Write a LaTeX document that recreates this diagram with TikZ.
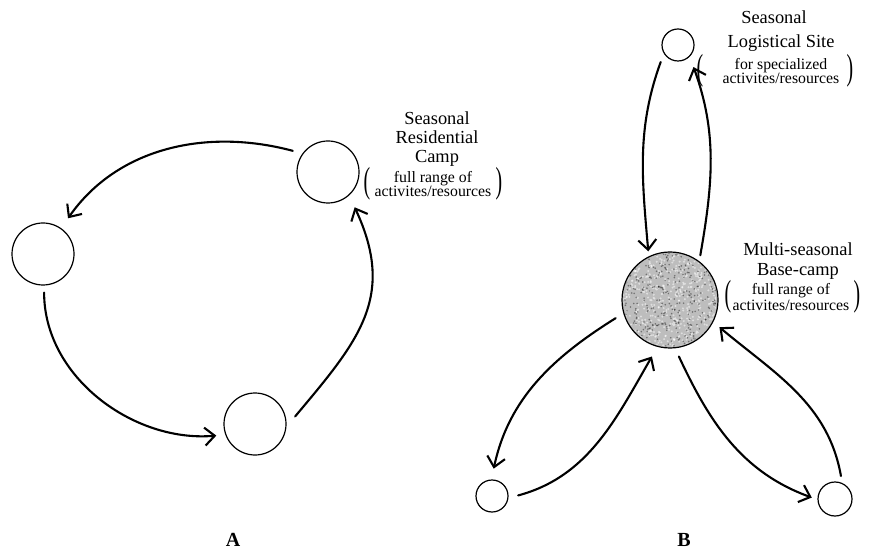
\documentclass[tikz,border=0pt]{standalone}
\usepackage{fontspec}
\setmainfont{Liberation Serif}
\usetikzlibrary{arrows.meta}
\begin{document}
\begin{tikzpicture}[x=0.5pt,y=0.5pt,
 site/.style={circle,draw,line width=0.6pt,inner sep=0pt},
 flow/.style={line width=1.05pt,line cap=round,-{Straight Barb[length=5pt,width=9pt,line width=1.05pt]}},
 bigtext/.style={font=\fontsize{9.2}{9.4}\selectfont,align=center,inner sep=0pt},
 smalltext/.style={font=\fontsize{7.9}{7}\selectfont,align=center,inner sep=0pt},
 paren/.style={font=\fontsize{11}{11}\selectfont,inner sep=0pt},
 letter/.style={font=\fontsize{10}{12}\selectfont\bfseries,inner sep=0pt}]
\useasboundingbox (0,0) rectangle (870,551);
% ---------- A ----------
\node[site,minimum size=31pt] (L) at (43,297) {};
\node[site,minimum size=31pt] (TR) at (328,379) {};
\node[site,minimum size=31pt] (Bt) at (255,127) {};
\draw[flow,shorten <=5pt,shorten >=6pt] (TR.144) to[out=165,in=55] (L.55);
\draw[flow,shorten <=3.5pt,shorten >=4.5pt] (L.-88) to[out=-90,in=185] (Bt.200);
\draw[flow,shorten <=6.7pt,shorten >=6.5pt] (Bt.-5) to[out=50,in=-65,looseness=1.2] (TR.-48);
\node[bigtext] (labA) at (437,412) {Seasonal\\Residential\\Camp};
\node[smalltext] (subA) at (433,367) {full range of\\activites/resources};
\node[paren] (pAl) at (367,367) {\scalebox{0.9}[1.65]{(}};
\node[paren] (pAr) at (499,367) {\scalebox{0.9}[1.65]{)}};
\node[letter] (letA) at (233,11) {A};
% ---------- B ----------
\node[site,minimum size=16pt] (T) at (678,506) {};
\node[site,minimum size=48pt,fill=gray!52] (Big) at (670,251) {};
\begin{scope}
\clip (Big.center) circle (23.4pt);
\pgfmathsetseed{11}
\foreach \i in {1,...,520}{
  \pgfmathsetmacro{\dx}{rand*23.5}
  \pgfmathsetmacro{\dy}{rand*23.5}
  \fill[white,opacity=0.5] ([shift={(\dx pt,\dy pt)}]Big.center) circle (0.55pt);
}
\foreach \i in {1,...,360}{
  \pgfmathsetmacro{\dx}{rand*23.5}
  \pgfmathsetmacro{\dy}{rand*23.5}
  \fill[black,opacity=0.4] ([shift={(\dx pt,\dy pt)}]Big.center) circle (0.45pt);
}
\end{scope}
\node[site,minimum size=16pt] (BL) at (492,55) {};
\node[site,minimum size=17pt] (BR) at (835,52) {};
\draw[flow,shorten <=4.5pt,shorten >=2.5pt] (T.211) to[out=250,in=95] (Big.116);
\draw[flow,shorten <=3pt,shorten >=5.5pt] (Big.53) to[out=80,in=-70] (T.-45);
\draw[flow,shorten <=4.5pt,shorten >=5.5pt] (Big.196) to[out=212,in=78] (BL.92);
\draw[flow,shorten <=5pt,shorten >=5.5pt] (BL.-7) to[out=15,in=240] (Big.255);
\draw[flow,shorten <=4.5pt,shorten >=3pt] (Big.-84) to[out=-65,in=160] (BR.182);
\draw[flow,shorten <=3.5pt,shorten >=4pt] (BR.66) to[out=100,in=-40] (Big.-27);
\node[bigtext,font=\fontsize{9.2}{12.3}\selectfont] (labT) at (774,520) {Seasonal\\\hspace*{7pt}Logistical Site};
\node[smalltext] (subT) at (781,480) {for specialized\\activites/resources};
\node[paren] (pTl) at (700,480) {\scalebox{0.9}[1.65]{(}};
\node[paren] (pTr) at (850,480) {\scalebox{0.9}[1.65]{)}};
\node[bigtext,font=\fontsize{9.2}{9.6}\selectfont] (labM) at (798,290) {Multi-seasonal\\Base-camp};
\node[smalltext,font=\fontsize{7.9}{6.6}\selectfont] (subM) at (791,254) {full range of\\activites/resources};
\node[paren] (pMl) at (728,254) {\scalebox{0.9}[1.65]{(}};
\node[paren] (pMr) at (857,254) {\scalebox{0.9}[1.65]{)}};
\node[letter] (letB) at (684,11) {B};
\end{tikzpicture}
\end{document}
